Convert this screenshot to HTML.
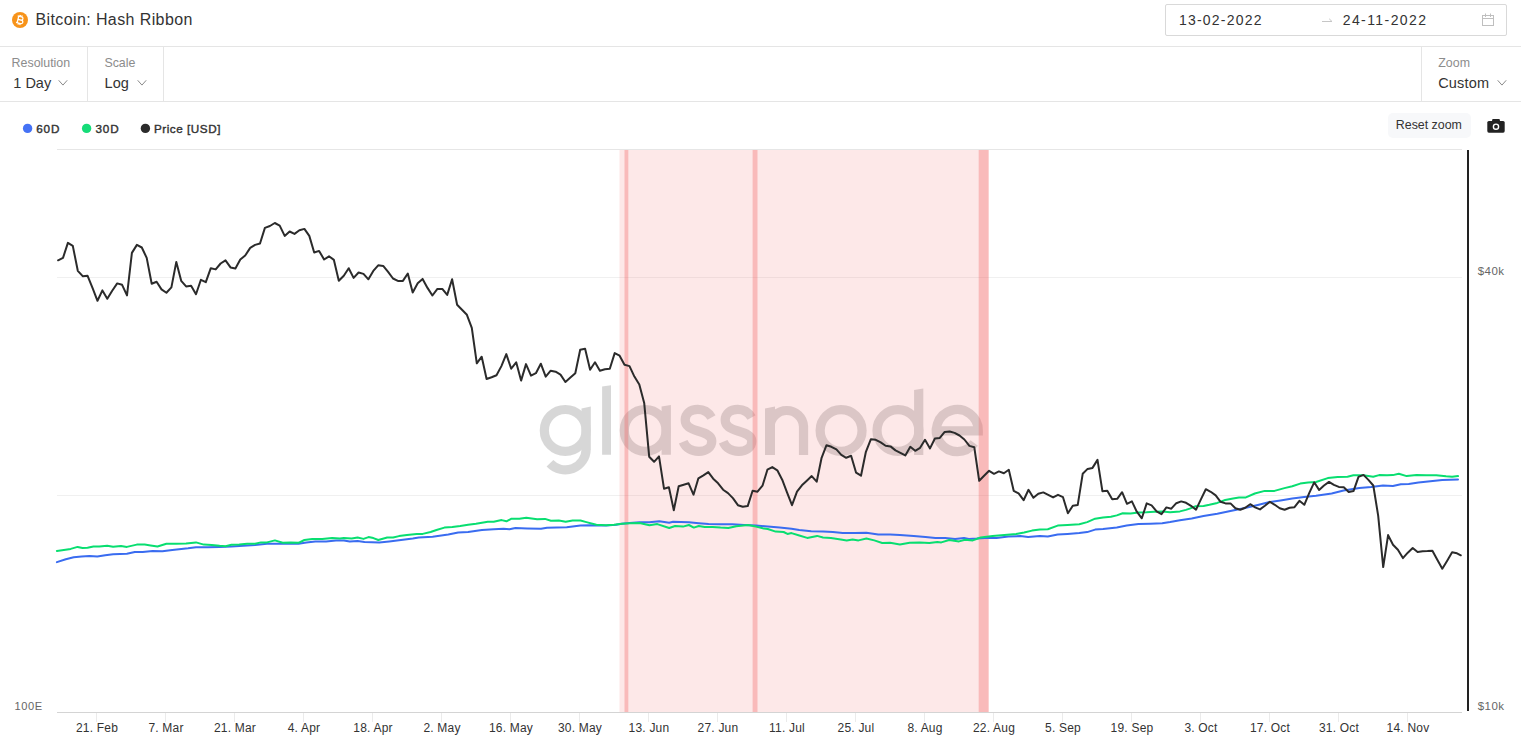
<!DOCTYPE html>
<html><head><meta charset="utf-8"><style>
html,body{margin:0;padding:0;background:#fff;}
body{width:1521px;height:752px;position:relative;overflow:hidden;font-family:"Liberation Sans",sans-serif;}
.t{position:absolute;white-space:nowrap;line-height:1;}
.hl{position:absolute;left:0;width:1521px;height:1px;background:#e5e5e5;}
.vl{position:absolute;width:1px;background:#e5e5e5;}
svg{position:absolute;left:0;top:0;}
</style></head><body>
<svg width="1521" height="752" viewBox="0 0 1521 752">
<line x1="57" y1="149.5" x2="1462" y2="149.5" stroke="#e6e6e6" stroke-width="1"/>
<line x1="57" y1="277.5" x2="1462" y2="277.5" stroke="#000" stroke-opacity="0.058" stroke-width="1"/>
<line x1="57" y1="495.5" x2="1462" y2="495.5" stroke="#000" stroke-opacity="0.058" stroke-width="1"/>
<g opacity="0.23" fill="#585858" stroke="#585858" stroke-width="9.2">
<circle cx="565.25" cy="430.4" r="20.9" fill="none"/>
<polygon stroke="none" points="581.5,408.6 590.8,406.6 590.8,449.5 581.5,449.5"/>
<path fill="none" d="M586.15,449 A20.9,20.9 0 0 1 549.96,463.25"/>
<polygon stroke="none" points="602.1,386.6 611,385.3 611,454.7 602.1,454.7"/>
<circle cx="645.2" cy="430.4" r="20.9" fill="none"/>
<polygon stroke="none" points="661.6,406.6 670.9,405 670.9,454.7 661.6,454.7"/>
<path id="wms" fill="none" d="M711.5,417.5 C708,411.5 703,409.4 697.8,409.4 C690,409.4 685.2,414 685.2,420 C685.2,426 690,428.5 698,431 C706,433.5 711.8,435.5 711.8,441 C711.8,447.5 706,451.4 698.7,451.4 C691,451.4 685.5,447.5 683.2,441.8"/>
<path fill="none" transform="translate(40,0)" d="M711.5,417.5 C708,411.5 703,409.4 697.8,409.4 C690,409.4 685.2,414 685.2,420 C685.2,426 690,428.5 698,431 C706,433.5 711.8,435.5 711.8,441 C711.8,447.5 706,451.4 698.7,451.4 C691,451.4 685.5,447.5 683.2,441.8"/>
<polygon stroke="none" points="765,408.6 775,406.6 775,454.9 765,454.9"/>
<path fill="none" d="M770,454.9 V426.4 A16.8,16.8 0 0 1 803.55,426.4 V454.9"/>
<circle cx="841.1" cy="430.5" r="20.95" fill="none"/>
<circle cx="897.95" cy="430.5" r="20.95" fill="none"/>
<polygon stroke="none" points="914.1,390 923.3,388.4 923.3,454.9 914.1,454.9"/>
<path fill="none" d="M936,430.8 H978.3 A21,21 0 1 0 974.2,443"/>
</g>
<rect x="619.5" y="150" width="368.7" height="562" fill="#f06464" fill-opacity="0.15"/>
<rect x="624.5" y="150" width="3.8" height="562" fill="#f06464" fill-opacity="0.35"/>
<rect x="752.6" y="150" width="4.9" height="562" fill="#f06464" fill-opacity="0.35"/>
<rect x="978.7" y="150" width="10.1" height="562" fill="#f06464" fill-opacity="0.35"/>
<polyline points="56.9,562.1 65.8,559.2 73.7,557.2 81.6,556.6 89.4,556.0 97.3,556.6 105.2,555.2 113.1,554.2 126.9,553.8 134.8,552.1 142.7,551.9 152.6,551.1 162.4,551.3 172.3,549.9 188.1,548.3 196.0,547.3 207.8,547.3 219.6,546.9 231.5,546.5 243.3,545.8 255.1,545.0 267.0,543.8 282.7,543.8 298.5,543.8 306.4,542.4 315.3,541.4 326.1,541.4 336.0,540.6 343.9,540.4 349.7,541.6 357.6,541.0 364.5,542.0 379.3,542.4 389.2,541.4 401.0,540.0 412.8,538.5 418.8,537.5 432.6,536.7 448.3,534.5 458.2,532.5 468.1,532.0 481.9,530.0 493.7,529.2 503.6,528.8 509.5,529.2 515.4,528.0 527.2,528.4 541.0,528.8 547.0,527.8 566.7,527.2 580.5,525.6 590.4,525.2 598.2,525.6 606.1,525.6 616.0,524.7 621.9,523.7 629.7,523.1 639.6,522.3 649.4,522.3 659.3,521.3 669.2,522.7 673.1,521.7 688.9,522.3 698.8,523.3 708.6,524.1 720.5,524.3 732.3,524.3 744.1,525.0 756.0,525.6 767.8,526.6 779.6,527.6 791.5,528.8 799.3,530.0 811.2,531.2 823.0,531.6 832.9,532.0 842.7,532.9 854.6,532.9 866.4,532.7 878.2,534.5 890.1,534.5 899.9,535.1 913.7,535.9 925.5,537.1 935.4,537.9 945.2,537.9 955.1,538.9 964.0,537.9 968.9,538.9 976.8,538.5 984.7,537.9 996.5,538.1 1008.3,536.5 1020.2,536.1 1028.1,536.9 1039.9,536.1 1047.8,536.5 1057.7,534.5 1067.5,533.9 1079.3,533.1 1087.2,532.1 1095.1,529.6 1103.0,529.0 1116.8,527.6 1126.7,525.6 1138.5,524.1 1150.4,523.7 1162.2,523.3 1170.1,522.1 1179.9,520.3 1191.7,518.5 1203.5,516.1 1217.3,513.8 1229.2,511.2 1245.0,507.9 1258.8,504.7 1268.6,502.3 1280.5,500.4 1292.3,498.4 1304.1,497.0 1316.0,495.8 1331.7,493.5 1343.6,490.5 1359.3,488.1 1371.2,487.0 1383.0,485.6 1392.9,486.0 1400.8,484.2 1408.7,484.0 1418.5,482.6 1430.4,481.2 1442.2,480.0 1450.1,479.7 1458.0,479.5" fill="none" stroke="#3a6cf0" stroke-width="2" stroke-linejoin="round" stroke-linecap="round"/>
<polyline points="56.9,550.9 70.7,548.9 77.6,546.9 82.5,547.9 87.5,547.7 93.4,546.5 99.3,546.5 107.2,545.8 113.1,546.7 121.0,546.0 126.9,546.9 136.8,544.6 144.7,544.6 150.6,545.4 157.5,546.5 166.4,543.8 176.2,543.8 186.1,543.4 196.0,542.4 203.8,544.6 211.7,545.0 219.6,545.8 225.5,546.2 231.5,544.8 239.3,544.6 247.2,543.8 255.1,543.8 261.0,542.4 267.0,542.4 274.9,540.4 282.7,542.8 290.6,542.4 298.5,542.8 304.4,540.0 312.3,538.9 322.2,539.1 332.1,537.9 339.9,538.5 343.8,538.1 351.7,538.5 357.6,537.5 363.5,538.9 368.5,537.1 373.4,538.1 378.3,540.0 387.2,537.5 393.1,537.5 399.0,536.1 406.9,535.1 416.8,533.9 422.7,533.9 430.6,532.0 436.5,530.0 444.4,527.6 452.3,527.0 460.2,526.0 468.1,524.7 476.0,523.7 487.8,521.7 493.7,521.7 501.6,520.1 506.5,521.3 511.5,518.7 519.3,518.7 526.3,517.8 537.1,519.3 545.0,518.9 550.9,520.7 558.8,520.5 565.7,521.7 572.6,520.5 580.5,520.5 586.4,522.1 596.3,524.7 606.1,525.2 614.0,524.7 621.9,523.7 629.7,523.3 639.6,523.1 649.4,525.2 657.3,524.1 669.2,528.0 675.1,526.0 683.0,526.6 688.9,525.0 693.8,527.6 698.8,526.0 704.7,527.0 712.6,527.0 720.5,527.6 728.3,528.0 736.2,526.2 748.1,525.0 756.0,526.6 763.8,528.6 767.8,529.0 775.7,531.6 783.6,532.0 787.5,533.9 791.5,533.1 799.3,535.5 807.2,537.9 817.1,535.9 823.0,537.5 830.9,538.1 840.8,539.4 846.7,540.4 852.6,539.4 858.5,540.4 866.4,538.5 874.3,540.4 882.2,543.0 890.1,542.8 899.9,544.4 909.7,542.8 919.6,542.4 929.4,543.0 937.3,542.0 941.3,542.4 949.2,540.0 959.0,541.4 965.0,539.8 972.8,540.4 980.7,537.5 992.6,536.1 1004.4,535.1 1016.2,533.9 1024.1,532.5 1032.0,530.6 1039.9,529.6 1047.8,529.2 1057.7,525.6 1067.5,525.0 1079.3,524.3 1087.2,522.1 1095.1,518.7 1103.0,517.4 1110.9,516.8 1116.8,515.4 1122.7,513.2 1130.6,513.4 1138.5,512.4 1146.4,512.2 1154.3,511.8 1162.2,511.4 1170.1,512.2 1179.9,511.4 1185.9,509.9 1189.7,508.6 1195.6,506.3 1203.5,505.9 1209.4,504.7 1217.3,502.9 1225.2,500.0 1233.1,498.4 1239.0,497.4 1245.9,497.4 1254.8,493.5 1264.7,490.9 1274.5,490.9 1284.4,488.1 1292.3,486.2 1300.2,483.6 1308.1,482.6 1316.0,482.0 1327.8,478.1 1337.7,477.1 1347.5,476.7 1353.4,475.3 1363.3,475.3 1373.2,476.7 1379.1,475.1 1387.0,475.3 1392.9,475.1 1398.8,473.7 1406.7,476.1 1416.5,475.1 1426.4,475.3 1436.3,475.3 1446.1,476.3 1452.1,476.7 1458.0,476.1" fill="none" stroke="#08de70" stroke-width="2" stroke-linejoin="round" stroke-linecap="round"/>
<polyline points="58.1,260.3 63.0,257.9 67.9,242.9 72.8,245.9 77.8,270.8 82.7,276.2 87.6,275.8 92.5,287.8 97.5,300.8 102.4,290.4 107.3,298.8 112.2,290.8 117.2,283.4 122.1,284.8 127.0,295.4 131.9,252.9 136.9,244.9 141.8,247.5 146.7,257.9 151.7,283.8 156.6,281.8 161.5,289.4 166.4,292.8 171.4,287.4 176.3,261.9 181.2,280.8 186.1,286.4 191.1,285.8 196.0,294.2 200.9,279.8 205.8,282.2 210.8,268.2 215.7,269.4 220.6,263.5 225.5,260.3 230.5,267.4 235.4,268.4 240.3,259.5 245.2,255.5 250.2,247.9 255.1,244.9 260.0,243.5 264.9,227.9 269.9,226.0 274.8,223.0 279.7,225.6 284.7,235.9 289.6,231.5 294.5,233.9 299.4,230.3 304.4,228.9 309.3,235.9 314.2,252.5 319.1,250.9 324.1,259.5 329.0,256.3 333.9,259.9 338.8,280.8 343.8,275.8 348.7,268.2 353.6,277.9 358.6,272.5 363.5,273.9 368.4,279.3 373.3,270.9 378.2,265.3 383.2,265.9 388.1,271.9 393.0,278.5 397.9,280.9 402.9,280.9 407.8,273.5 412.7,292.5 417.7,283.3 422.6,278.9 427.5,287.9 432.4,295.5 437.4,288.9 442.3,288.9 447.2,294.9 452.1,279.3 457.1,304.8 462.0,309.8 466.9,314.8 471.8,327.8 476.8,363.3 481.7,356.7 486.6,379.0 491.6,377.2 496.5,375.2 501.4,366.1 506.3,354.1 511.2,368.7 516.2,362.3 521.1,380.6 526.0,364.1 531.0,375.6 535.9,373.2 540.8,363.7 545.7,376.6 550.7,370.7 555.6,371.7 560.5,374.6 565.4,382.0 570.4,377.6 575.3,373.2 580.2,349.7 585.1,348.7 590.1,369.7 595.0,362.3 599.9,370.7 604.9,369.3 609.8,368.7 614.7,353.1 619.6,355.7 624.5,364.7 629.5,366.1 634.4,376.6 639.3,384.6 644.2,402.9 649.2,456.8 654.1,461.8 659.0,456.4 664.0,488.7 668.9,487.3 673.8,510.2 678.7,486.3 683.7,484.7 688.6,483.3 693.5,494.7 698.4,478.3 703.4,475.3 708.3,472.1 713.2,478.7 718.1,483.3 723.1,489.7 728.0,493.1 732.9,498.1 737.9,505.2 742.8,506.8 747.7,506.1 752.6,490.7 757.5,491.7 762.5,485.7 767.4,469.7 772.3,467.1 777.3,470.3 782.2,479.7 787.1,492.7 792.0,505.2 797.0,491.7 801.9,485.3 806.8,480.7 811.7,476.1 816.7,481.7 821.6,457.8 826.5,445.2 831.4,446.8 836.4,449.4 841.3,454.8 846.2,457.8 851.1,455.8 856.1,472.7 861.0,475.7 865.9,451.8 870.9,439.2 875.8,439.8 880.7,442.4 885.6,445.8 890.5,446.4 895.5,450.4 900.4,452.8 905.3,455.4 910.3,446.8 915.2,450.8 920.1,447.8 925.0,439.8 930.0,448.4 934.9,438.5 939.8,437.9 944.7,431.9 949.7,431.5 954.6,432.9 959.5,435.5 964.4,439.5 969.4,445.9 974.3,447.3 979.2,480.8 984.1,475.8 989.1,470.8 994.0,473.8 998.9,471.4 1003.9,473.2 1008.8,469.8 1013.7,490.8 1018.6,493.4 1023.6,500.2 1028.5,489.8 1033.4,497.8 1038.3,493.8 1043.3,492.4 1048.2,494.8 1053.1,497.4 1058.0,494.8 1063.0,497.2 1067.9,513.3 1072.8,505.8 1077.7,505.1 1082.7,473.8 1087.6,468.9 1092.5,467.9 1097.5,459.9 1102.4,491.2 1107.3,490.8 1112.2,499.2 1117.2,498.8 1122.1,492.2 1127.0,503.8 1131.9,501.4 1136.8,511.7 1141.8,518.3 1146.7,503.4 1151.6,505.4 1156.6,511.3 1161.5,514.1 1166.4,507.4 1171.3,508.7 1176.3,503.2 1181.2,501.4 1186.1,502.8 1191.0,505.8 1196.0,509.7 1200.9,499.4 1205.8,489.2 1210.7,491.8 1215.7,495.4 1220.6,501.8 1225.5,503.4 1230.5,503.4 1235.4,508.2 1240.3,509.8 1245.2,507.8 1250.2,504.2 1255.1,507.4 1260.0,509.4 1264.9,505.8 1269.9,501.8 1274.8,504.8 1279.7,508.2 1284.6,509.8 1289.6,507.8 1294.5,507.2 1299.4,500.8 1304.3,504.8 1309.3,492.9 1314.2,482.3 1319.1,489.9 1324.0,485.5 1329.0,481.9 1333.9,484.9 1338.8,486.9 1343.8,487.3 1348.7,491.9 1353.6,490.9 1358.5,476.9 1363.5,474.9 1368.4,479.9 1373.3,485.5 1378.2,515.8 1383.2,567.1 1388.1,535.1 1393.0,544.7 1397.9,549.7 1402.9,558.1 1407.8,552.7 1412.7,548.1 1417.6,552.1 1422.6,551.3 1427.5,551.1 1432.4,550.7 1437.3,559.7 1442.3,568.7 1447.2,560.7 1452.1,552.3 1457.0,553.3 1460.8,555.3" fill="none" stroke="#2b2b2b" stroke-width="2" stroke-linejoin="round" stroke-linecap="round"/>
<line x1="57" y1="712.5" x2="1462" y2="712.5" stroke="#d4d4d4" stroke-width="1"/>
<line x1="96.5" y1="713" x2="96.5" y2="722" stroke="#ebebeb" stroke-width="1"/>
<line x1="165.5" y1="713" x2="165.5" y2="722" stroke="#ebebeb" stroke-width="1"/>
<line x1="234.5" y1="713" x2="234.5" y2="722" stroke="#ebebeb" stroke-width="1"/>
<line x1="303.5" y1="713" x2="303.5" y2="722" stroke="#ebebeb" stroke-width="1"/>
<line x1="372.5" y1="713" x2="372.5" y2="722" stroke="#ebebeb" stroke-width="1"/>
<line x1="441.5" y1="713" x2="441.5" y2="722" stroke="#ebebeb" stroke-width="1"/>
<line x1="510.5" y1="713" x2="510.5" y2="722" stroke="#ebebeb" stroke-width="1"/>
<line x1="579.5" y1="713" x2="579.5" y2="722" stroke="#ebebeb" stroke-width="1"/>
<line x1="648.5" y1="713" x2="648.5" y2="722" stroke="#ebebeb" stroke-width="1"/>
<line x1="717.5" y1="713" x2="717.5" y2="722" stroke="#ebebeb" stroke-width="1"/>
<line x1="786.5" y1="713" x2="786.5" y2="722" stroke="#ebebeb" stroke-width="1"/>
<line x1="855.5" y1="713" x2="855.5" y2="722" stroke="#ebebeb" stroke-width="1"/>
<line x1="924.5" y1="713" x2="924.5" y2="722" stroke="#ebebeb" stroke-width="1"/>
<line x1="993.5" y1="713" x2="993.5" y2="722" stroke="#ebebeb" stroke-width="1"/>
<line x1="1062.5" y1="713" x2="1062.5" y2="722" stroke="#ebebeb" stroke-width="1"/>
<line x1="1131.5" y1="713" x2="1131.5" y2="722" stroke="#ebebeb" stroke-width="1"/>
<line x1="1200.5" y1="713" x2="1200.5" y2="722" stroke="#ebebeb" stroke-width="1"/>
<line x1="1269.5" y1="713" x2="1269.5" y2="722" stroke="#ebebeb" stroke-width="1"/>
<line x1="1338.5" y1="713" x2="1338.5" y2="722" stroke="#ebebeb" stroke-width="1"/>
<line x1="1407.5" y1="713" x2="1407.5" y2="722" stroke="#ebebeb" stroke-width="1"/>
<line x1="1468" y1="150" x2="1468" y2="711" stroke="#222" stroke-width="2"/>
<circle cx="27.6" cy="128.4" r="4.7" fill="#4572f5"/>
<circle cx="86.6" cy="128.4" r="4.7" fill="#16dc78"/>
<circle cx="145.4" cy="128.4" r="4.7" fill="#2b2b2b"/>
<polyline points="58.7,80.3 62.95,85.1 67.2,80.3" fill="none" stroke="#8a8a8a" stroke-width="1"/>
<polyline points="137.7,80.3 141.95,85.1 146.2,80.3" fill="none" stroke="#8a8a8a" stroke-width="1"/>
<polyline points="1497.7,80.3 1501.95,85.1 1506.2,80.3" fill="none" stroke="#8a8a8a" stroke-width="1"/>
<circle cx="20" cy="20" r="8" fill="#f7931a"/>
<g transform="translate(20.2,20) rotate(14)" fill="none" stroke="#fff" stroke-width="1.25"><path d="M-3.4,-3.3 H0.6 C3,-3.3 3,-0.1 0.6,-0.1 H-2.3 M-2.3,-3.3 V3.4 M-2.3,-0.1 H1.1 C3.7,-0.1 3.7,3.4 1.1,3.4 H-3.4 M-1,-4.9 V-3.3 M0.8,-4.9 V-3.3 M-1,3.4 V5 M0.8,3.4 V5"/></g>
<path d="M1322 21.5 H1332 L1329.2 18.8" fill="none" stroke="#c6c6c6" stroke-width="1"/>
<rect x="1482.5" y="15.5" width="11" height="10" fill="none" stroke="#bfbfbf" stroke-width="1"/>
<line x1="1482.5" y1="18.5" x2="1493.5" y2="18.5" stroke="#bfbfbf" stroke-width="1"/>
<line x1="1485.5" y1="13.5" x2="1485.5" y2="17" stroke="#bfbfbf" stroke-width="1"/>
<line x1="1490.5" y1="13.5" x2="1490.5" y2="17" stroke="#bfbfbf" stroke-width="1"/>
<rect x="1487.3" y="121" width="17.4" height="11.7" rx="1.6" fill="#222"/>
<rect x="1492.1" y="118.9" width="7.8" height="3.5" rx="1" fill="#222"/>
<circle cx="1496" cy="126.7" r="2.6" fill="none" stroke="#fff" stroke-width="1.4"/>
</svg>
<div class="hl" style="top:46px"></div>
<div class="hl" style="top:101px"></div>
<div class="vl" style="left:87px;top:47px;height:54px"></div>
<div class="vl" style="left:163px;top:47px;height:54px"></div>
<div class="vl" style="left:1421px;top:47px;height:54px"></div>
<div class="t" style="left:35.40px;top:11.66px;font-size:16px;color:#333;font-weight:400;letter-spacing:0.4px;">Bitcoin: Hash Ribbon</div>
<div class="t" style="left:11.60px;top:56.50px;font-size:12.4px;color:#8c8c8c;font-weight:400;letter-spacing:0px;">Resolution</div>
<div class="t" style="left:13.30px;top:75.93px;font-size:14.5px;color:#333;font-weight:400;letter-spacing:0px;">1 Day</div>
<div class="t" style="left:104.40px;top:56.50px;font-size:12.4px;color:#8c8c8c;font-weight:400;letter-spacing:0px;">Scale</div>
<div class="t" style="left:104.60px;top:75.93px;font-size:14.5px;color:#333;font-weight:400;letter-spacing:0px;">Log</div>
<div class="t" style="left:1438.30px;top:56.50px;font-size:12.4px;color:#8c8c8c;font-weight:400;letter-spacing:0px;">Zoom</div>
<div class="t" style="left:1438.20px;top:75.53px;font-size:14.5px;color:#333;font-weight:400;letter-spacing:0.2px;">Custom</div>
<div style="position:absolute;left:1165px;top:4px;width:340px;height:30px;border:1px solid #d9d9d9;border-radius:2px"></div>
<div class="t" style="left:1178.90px;top:13.25px;font-size:14px;color:#333;font-weight:400;letter-spacing:1.22px;">13-02-2022</div>
<div class="t" style="left:1342.70px;top:13.25px;font-size:14px;color:#333;font-weight:400;letter-spacing:1.42px;">24-11-2022</div>
<div class="t" style="left:36.20px;top:122.90px;font-size:11.7px;color:#333;font-weight:400;letter-spacing:0.9px;-webkit-text-stroke:0.4px #333;">60D</div>
<div class="t" style="left:95.40px;top:122.90px;font-size:11.7px;color:#333;font-weight:400;letter-spacing:0.9px;-webkit-text-stroke:0.4px #333;">30D</div>
<div class="t" style="left:153.90px;top:122.90px;font-size:11.7px;color:#333;font-weight:400;letter-spacing:0.55px;-webkit-text-stroke:0.4px #333;">Price [USD]</div>
<div style="position:absolute;left:1388px;top:113px;width:83px;height:25px;background:#f7f8fa;border-radius:5px"></div>
<div class="t" style="left:1395.80px;top:118.50px;font-size:12.4px;color:#333;font-weight:400;letter-spacing:0px;">Reset zoom</div>
<div class="t" style="left:1477.80px;top:266.27px;font-size:11.5px;color:#666;font-weight:400;letter-spacing:0.4px;">$40k</div>
<div class="t" style="left:1477.80px;top:701.47px;font-size:11.5px;color:#666;font-weight:400;letter-spacing:0.4px;">$10k</div>
<div class="t" style="left:14.40px;top:701.10px;font-size:11.1px;color:#666;font-weight:400;letter-spacing:0.6px;">100E</div>
<div class="t" style="left:-3.00px;width:200px;text-align:center;top:721.64px;font-size:12px;color:#333;font-weight:400;letter-spacing:0.2px;">21. Feb</div>
<div class="t" style="left:66.00px;width:200px;text-align:center;top:721.64px;font-size:12px;color:#333;font-weight:400;letter-spacing:0.2px;">7. Mar</div>
<div class="t" style="left:135.00px;width:200px;text-align:center;top:721.64px;font-size:12px;color:#333;font-weight:400;letter-spacing:0.2px;">21. Mar</div>
<div class="t" style="left:204.00px;width:200px;text-align:center;top:721.64px;font-size:12px;color:#333;font-weight:400;letter-spacing:0.2px;">4. Apr</div>
<div class="t" style="left:273.00px;width:200px;text-align:center;top:721.64px;font-size:12px;color:#333;font-weight:400;letter-spacing:0.2px;">18. Apr</div>
<div class="t" style="left:342.00px;width:200px;text-align:center;top:721.64px;font-size:12px;color:#333;font-weight:400;letter-spacing:0.2px;">2. May</div>
<div class="t" style="left:411.00px;width:200px;text-align:center;top:721.64px;font-size:12px;color:#333;font-weight:400;letter-spacing:0.2px;">16. May</div>
<div class="t" style="left:480.00px;width:200px;text-align:center;top:721.64px;font-size:12px;color:#333;font-weight:400;letter-spacing:0.2px;">30. May</div>
<div class="t" style="left:549.00px;width:200px;text-align:center;top:721.64px;font-size:12px;color:#333;font-weight:400;letter-spacing:0.2px;">13. Jun</div>
<div class="t" style="left:618.00px;width:200px;text-align:center;top:721.64px;font-size:12px;color:#333;font-weight:400;letter-spacing:0.2px;">27. Jun</div>
<div class="t" style="left:687.00px;width:200px;text-align:center;top:721.64px;font-size:12px;color:#333;font-weight:400;letter-spacing:0.2px;">11. Jul</div>
<div class="t" style="left:756.00px;width:200px;text-align:center;top:721.64px;font-size:12px;color:#333;font-weight:400;letter-spacing:0.2px;">25. Jul</div>
<div class="t" style="left:825.00px;width:200px;text-align:center;top:721.64px;font-size:12px;color:#333;font-weight:400;letter-spacing:0.2px;">8. Aug</div>
<div class="t" style="left:894.00px;width:200px;text-align:center;top:721.64px;font-size:12px;color:#333;font-weight:400;letter-spacing:0.2px;">22. Aug</div>
<div class="t" style="left:963.00px;width:200px;text-align:center;top:721.64px;font-size:12px;color:#333;font-weight:400;letter-spacing:0.2px;">5. Sep</div>
<div class="t" style="left:1032.00px;width:200px;text-align:center;top:721.64px;font-size:12px;color:#333;font-weight:400;letter-spacing:0.2px;">19. Sep</div>
<div class="t" style="left:1101.00px;width:200px;text-align:center;top:721.64px;font-size:12px;color:#333;font-weight:400;letter-spacing:0.2px;">3. Oct</div>
<div class="t" style="left:1170.00px;width:200px;text-align:center;top:721.64px;font-size:12px;color:#333;font-weight:400;letter-spacing:0.2px;">17. Oct</div>
<div class="t" style="left:1239.00px;width:200px;text-align:center;top:721.64px;font-size:12px;color:#333;font-weight:400;letter-spacing:0.2px;">31. Oct</div>
<div class="t" style="left:1308.00px;width:200px;text-align:center;top:721.64px;font-size:12px;color:#333;font-weight:400;letter-spacing:0.2px;">14. Nov</div>

</body></html>
